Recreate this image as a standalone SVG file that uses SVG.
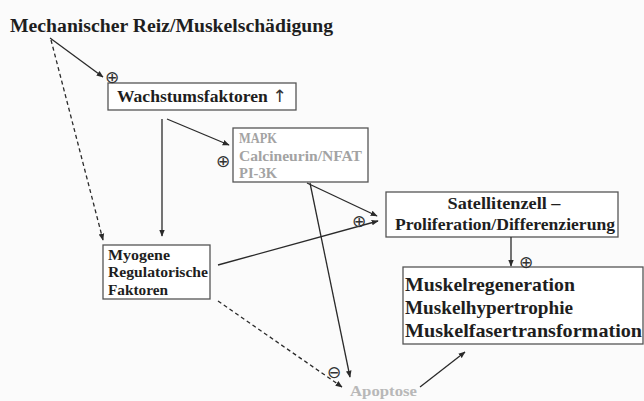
<svg xmlns="http://www.w3.org/2000/svg" width="644" height="401" viewBox="0 0 644 401">
<style>
text{font-family:"Liberation Serif","Times New Roman",serif;font-weight:bold;fill:#1e1e1e}
.box{fill:#fff;stroke:#555;stroke-width:1.3}
.gray{fill:#a3a3a3}
.lgray{fill:#b8b8b8}
.ln{stroke:#2a2a2a;stroke-width:1.3;fill:none}
.dash{stroke-dasharray:4,3}
.sign{font-weight:normal;font-family:"DejaVu Sans",sans-serif;font-size:17px;fill:#333}
</style>
<defs>
<marker id="ah" viewBox="0 0 10 10" refX="9" refY="5" markerWidth="7" markerHeight="7" orient="auto" markerUnits="userSpaceOnUse">
<path d="M0,1 L10,5 L0,9 z" fill="#2a2a2a"/>
</marker>
</defs>
<rect width="644" height="401" fill="#fbfbfb"/>
<g id="title"><text x="10" y="32" font-size="18" textLength="323" lengthAdjust="spacingAndGlyphs">Mechanischer Reiz/Muskelschädigung</text></g>
<g id="wachstum">
<rect class="box" x="108" y="83" width="188" height="27"/>
<text x="117" y="102" font-size="17" textLength="170" lengthAdjust="spacingAndGlyphs">Wachstumsfaktoren <tspan font-weight="normal" font-family="DejaVu Sans, sans-serif" fill="#333">↑</tspan></text>
</g>
<g id="mapk">
<rect class="box" x="233" y="128" width="135" height="54"/>
<text class="gray" x="239" y="143" font-size="14" textLength="38" lengthAdjust="spacingAndGlyphs">MAPK</text>
<text class="gray" x="239" y="161" font-size="14" textLength="123" lengthAdjust="spacingAndGlyphs">Calcineurin/NFAT</text>
<text class="gray" x="239" y="178" font-size="14" textLength="38" lengthAdjust="spacingAndGlyphs">PI-3K</text>
</g>
<g id="satellit">
<rect class="box" x="386" y="192" width="232" height="45"/>
<text x="504" y="209" font-size="17" text-anchor="middle" textLength="113" lengthAdjust="spacingAndGlyphs">Satellitenzell –</text>
<text x="505" y="230" font-size="17" text-anchor="middle" textLength="220" lengthAdjust="spacingAndGlyphs">Proliferation/Differenzierung</text>
</g>
<g id="myogen">
<rect class="box" x="103" y="245" width="107" height="54"/>
<text x="108" y="260" font-size="15" textLength="62" lengthAdjust="spacingAndGlyphs">Myogene</text>
<text x="108" y="277" font-size="15" textLength="100" lengthAdjust="spacingAndGlyphs">Regulatorische</text>
<text x="108" y="295" font-size="15" textLength="60" lengthAdjust="spacingAndGlyphs">Faktoren</text>
</g>
<g id="muskel">
<rect class="box" x="403" y="267" width="240" height="77"/>
<text x="405" y="291" font-size="19" textLength="170" lengthAdjust="spacingAndGlyphs">Muskelregeneration</text>
<text x="405" y="314" font-size="19" textLength="168" lengthAdjust="spacingAndGlyphs">Muskelhypertrophie</text>
<text x="405" y="337" font-size="19" textLength="237" lengthAdjust="spacingAndGlyphs">Muskelfasertransformation</text>
</g>
<g id="apoptose"><text class="lgray" x="350" y="396" font-size="15" font-weight="normal" textLength="67" lengthAdjust="spacingAndGlyphs">Apoptose</text></g>
<g id="connectors">
<line class="ln" x1="50" y1="38" x2="103" y2="77" marker-end="url(#ah)"/>
<line class="ln dash" x1="51" y1="40" x2="103" y2="240" marker-end="url(#ah)"/>
<line class="ln" x1="167" y1="119" x2="229" y2="145" marker-end="url(#ah)"/>
<line class="ln" x1="162" y1="119" x2="162" y2="236" marker-end="url(#ah)"/>
<line class="ln" x1="307" y1="183" x2="377" y2="216" marker-end="url(#ah)"/>
<line class="ln" x1="218" y1="265" x2="378" y2="221" marker-end="url(#ah)"/>
<line class="ln" x1="310" y1="183" x2="350" y2="377" marker-end="url(#ah)"/>
<line class="ln dash" x1="218" y1="301" x2="342" y2="387" marker-end="url(#ah)"/>
<line class="ln" x1="420" y1="387" x2="465" y2="352" marker-end="url(#ah)"/>
<line class="ln" x1="511" y1="237" x2="511" y2="266" marker-end="url(#ah)"/>
</g>
<g id="signs">
<text class="sign" x="112" y="83" text-anchor="middle">⊕</text>
<text class="sign" x="223" y="167" text-anchor="middle">⊕</text>
<text class="sign" x="359" y="227" text-anchor="middle">⊕</text>
<text class="sign" x="526" y="268" text-anchor="middle" font-size="16">⊕</text>
<text class="sign" x="334" y="378" text-anchor="middle" font-size="21">⊖</text>
</g>
</svg>
